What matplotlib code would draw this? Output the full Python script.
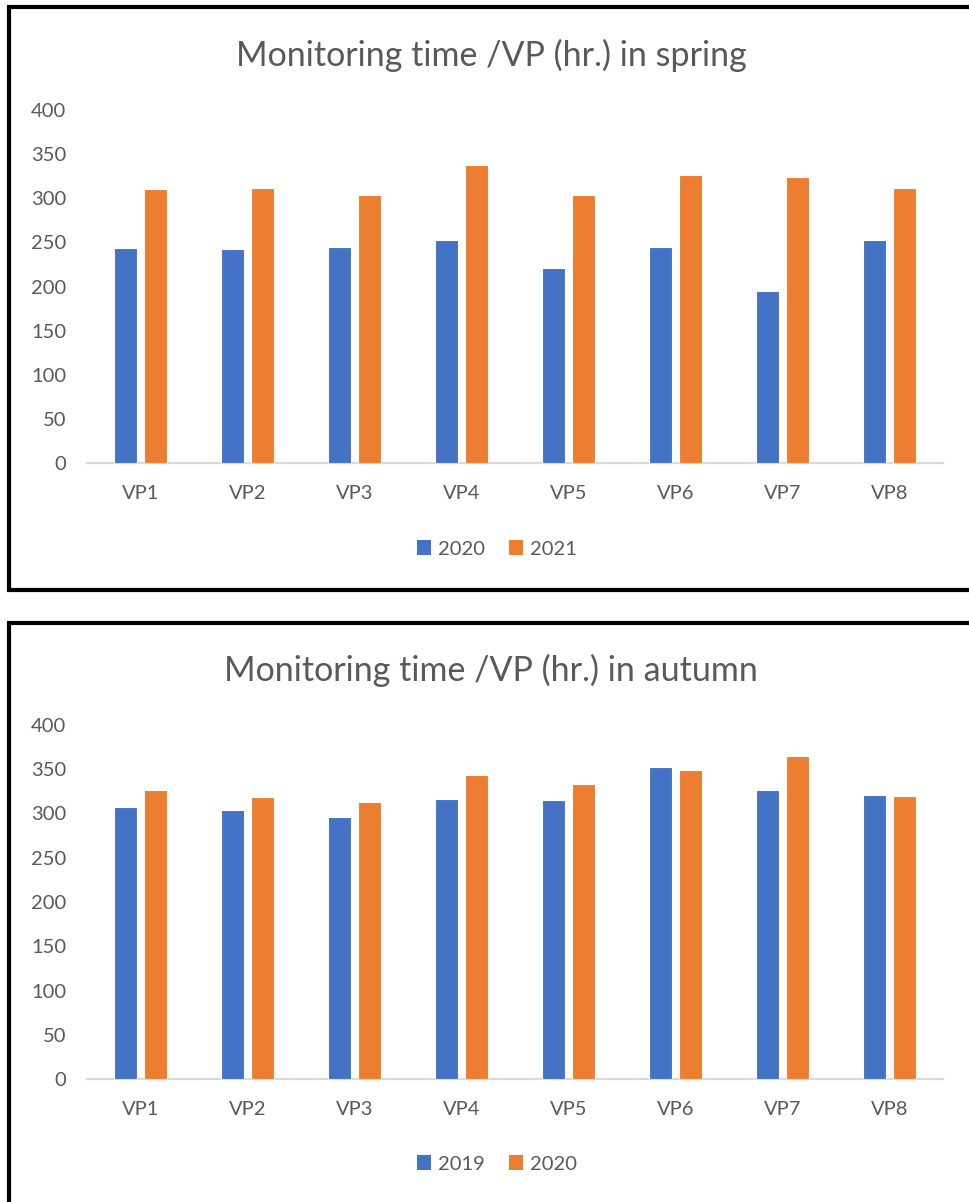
import matplotlib
matplotlib.use("Agg")
import matplotlib.pyplot as plt
import numpy as np
from matplotlib.patches import Patch
from matplotlib.lines import Line2D

plt.rcParams['font.family'] = ['Lato', 'DejaVu Sans']

categories = ["VP1", "VP2", "VP3", "VP4", "VP5", "VP6", "VP7", "VP8"]
y_ticks = [0, 50, 100, 150, 200, 250, 300, 350, 400]

spring_title = "Monitoring time /VP (hr.) in spring"
spring_labels = ["2020", "2021"]
spring_2020 = [244, 242, 245, 253, 221, 245, 195, 253]
spring_2021 = [311, 312, 304, 338, 304, 326, 324, 312]

autumn_title = "Monitoring time /VP (hr.) in autumn"
autumn_labels = ["2019", "2020"]
autumn_2019 = [307, 304, 296, 316, 315, 352, 327, 321]
autumn_2020 = [327, 319, 313, 343, 333, 349, 365, 320]

BLUE = "#4472C4"
ORANGE = "#ED7D31"
TEXT = "#595959"
AXIS = "#D9D9D9"

W, H = 969, 1202
fig = plt.figure(figsize=(W / 100, H / 100), dpi=100)


def fx(px):
    return px / W


def fy(py):
    return 1 - py / H


def draw_panel(top_px, bottom_px, ax_top, ax_bottom, title, title_y,
               labels, s1, s2, legend_y):
    # chart frame: thick black outline, open on the right
    lw = 3.0
    xs = [fx(W + 10), fx(9), fx(9), fx(W + 10)]
    ys = [fy(top_px), fy(top_px), fy(bottom_px), fy(bottom_px)]
    fig.add_artist(Line2D(xs, ys, color="black", lw=lw,
                          transform=fig.transFigure, solid_joinstyle="miter"))

    ax = fig.add_axes([fx(87), fy(ax_bottom), fx(943) - fx(87),
                       fy(ax_top) - fy(ax_bottom)])
    x = np.arange(len(categories))
    off, w = 0.14, 0.222
    ax.bar(x - off, s1, width=w, color=BLUE, edgecolor="white", linewidth=0.8,
           zorder=3)
    ax.bar(x + off, s2, width=w, color=ORANGE, edgecolor="white", linewidth=0.8,
           zorder=3)
    ax.set_xlim(-0.5, len(categories) - 0.5)
    ax.set_ylim(0, 400)
    ax.set_yticks(y_ticks)
    ax.set_xticks(x)
    ax.set_xticklabels(categories)
    for s in ["top", "right", "left"]:
        ax.spines[s].set_visible(False)
    ax.spines["bottom"].set_color(AXIS)
    ax.spines["bottom"].set_linewidth(1.6)
    ax.tick_params(axis="y", length=0, pad=15, labelsize=14.5, labelcolor=TEXT)
    ax.tick_params(axis="x", length=0, pad=16, labelsize=14.5, labelcolor=TEXT)

    fig.text(fx(491), fy(title_y), title, ha="center", va="center",
             fontsize=24.5, color=TEXT)

    handles = [Patch(facecolor=BLUE, edgecolor="none"),
               Patch(facecolor=ORANGE, edgecolor="none")]
    fig.legend(handles, labels, loc="center", ncol=2, frameon=False,
               bbox_to_anchor=(fx(497), fy(legend_y)), fontsize=14.5,
               labelcolor=TEXT, handlelength=0.7, handleheight=0.7,
               handletextpad=0.35, columnspacing=1.2)


draw_panel(7, 590, 110, 463, spring_title, 55,
           spring_labels, spring_2020, spring_2021, 549)
draw_panel(623, H + 20, 725, 1079, autumn_title, 670,
           autumn_labels, autumn_2019, autumn_2020, 1164)

fig.savefig("out.png", dpi=100, facecolor="white")
